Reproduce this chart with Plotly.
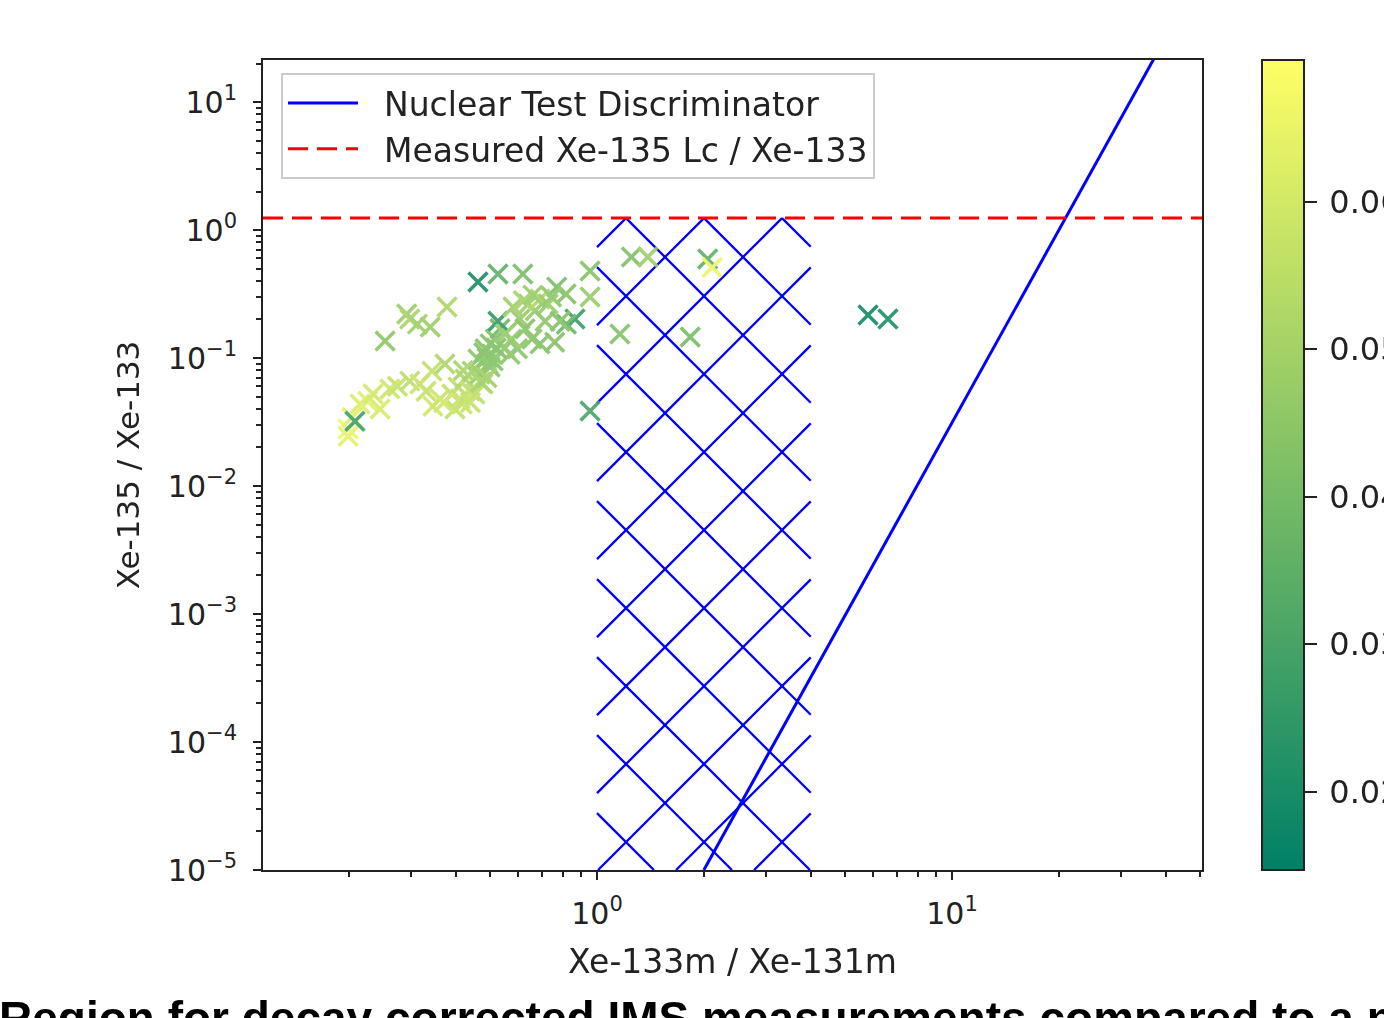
import numpy as np
import plotly.graph_objects as go

# ---------------- data ----------------
meas_x = [5.80, 6.60, 1.25, 1.39, 2.05, 2.11, 1.16, 1.83, 0.956, 0.956,
          0.956, 0.867, 0.82, 0.77, 0.76, 0.462, 0.526, 0.618, 0.253, 0.291,
          0.297, 0.312, 0.339, 0.378, 0.199, 0.199, 0.204, 0.208, 0.215, 0.226,
          0.234, 0.245, 0.261, 0.274, 0.297, 0.317, 0.343, 0.373, 0.345, 0.361,
          0.39, 0.411, 0.406, 0.425, 0.439, 0.445, 0.462, 0.468, 0.484, 0.493,
          0.500, 0.506, 0.517, 0.477, 0.453, 0.417, 0.398, 0.533, 0.526, 0.551,
          0.569, 0.597, 0.575, 0.607, 0.641, 0.669, 0.691, 0.728, 0.714, 0.627,
          0.656, 0.691, 0.787, 0.818, 0.49, 0.50, 0.48, 0.51, 0.47, 0.49,
          0.44, 0.37, 0.33, 0.55, 0.58, 0.62, 0.66, 0.745, 0.42, 0.52]
meas_y = [0.217, 0.202, 0.615, 0.615, 0.593, 0.51, 0.154, 0.146, 0.0385, 0.478,
          0.300, 0.202, 0.184, 0.358, 0.133, 0.393, 0.453, 0.453, 0.136, 0.221,
          0.202, 0.184, 0.175, 0.250, 0.0279, 0.0245, 0.0343, 0.032, 0.0437, 0.046,
          0.0523, 0.040, 0.0573, 0.0603, 0.066, 0.0626, 0.079, 0.0898, 0.042, 0.0478,
          0.0523, 0.0478, 0.0594, 0.0685, 0.0553, 0.079, 0.0982, 0.075, 0.118, 0.0898,
          0.129, 0.107, 0.141, 0.0626, 0.0523, 0.0437, 0.040, 0.169, 0.194, 0.154,
          0.107, 0.118, 0.141, 0.202, 0.264, 0.234, 0.289, 0.264, 0.194, 0.169,
          0.141, 0.129, 0.194, 0.316, 0.10, 0.085, 0.11, 0.095, 0.065, 0.07,
          0.045, 0.045, 0.055, 0.12, 0.25, 0.28, 0.31, 0.30, 0.08, 0.12]
meas_c = [0.018, 0.021, 0.042, 0.048, 0.035, 0.065, 0.043, 0.040, 0.030, 0.043,
          0.047, 0.027, 0.037, 0.040, 0.043, 0.020, 0.035, 0.041, 0.045, 0.048,
          0.051, 0.049, 0.048, 0.052, 0.066, 0.064, 0.063, 0.028, 0.062, 0.063,
          0.060, 0.061, 0.059, 0.057, 0.055, 0.058, 0.056, 0.052, 0.060, 0.058,
          0.056, 0.058, 0.055, 0.052, 0.056, 0.049, 0.045, 0.047, 0.043, 0.045,
          0.042, 0.043, 0.043, 0.052, 0.055, 0.058, 0.056, 0.039, 0.025, 0.047,
          0.045, 0.044, 0.047, 0.047, 0.049, 0.047, 0.052, 0.047, 0.045, 0.043,
          0.044, 0.043, 0.043, 0.043, 0.043, 0.044, 0.042, 0.043, 0.050, 0.049,
          0.057, 0.059, 0.057, 0.045, 0.049, 0.050, 0.047, 0.045, 0.051, 0.042]

disc_x = [2.0, 40.0]          # Nuclear test discriminator (slope 5 in log-log)
disc_y = [1e-5, 32.0]
lc_ratio = 1.24               # measured Xe-135 Lc / Xe-133
region_x = [1.0, 4.0]         # hatched region
region_y = [1e-5, 1.24]
xlim = [0.1146, 50.6]
ylim = [1e-5, 21.3]
c_lim = [0.0147, 0.0696]

x_tickvals = [1, 10]
x_ticktext = ["10<sup>0</sup>", "10<sup>1</sup>"]
y_tickvals = [1e-5, 1e-4, 1e-3, 1e-2, 1e-1, 1, 10]
y_ticktext = ["10<sup>\u22125</sup>", "10<sup>\u22124</sup>", "10<sup>\u22123</sup>",
              "10<sup>\u22122</sup>", "10<sup>\u22121</sup>", "10<sup>0</sup>", "10<sup>1</sup>"]
cbar_ticks = [0.02, 0.03, 0.04, 0.05, 0.06]
cbar_text = ["\u2009" + f"{v:.2f}" for v in cbar_ticks]

# ---------------- layout geometry ----------------
W, H = 1384, 1018
ML, MR, MT, MB = 263, 182, 60, 148
PW, PH = W - ML - MR, H - MT - MB
xr = [np.log10(xlim[0]), np.log10(xlim[1])]
yr = [np.log10(ylim[0]), np.log10(ylim[1])]
kx = PW / (xr[1] - xr[0])
ky = PH / (yr[1] - yr[0])

# hatch lines (45 deg in screen pixels) inside the region
pitch, phase = 78.0, 29.0
U0, U1 = np.log10(region_x[0]) * kx, np.log10(region_x[1]) * kx
V0, V1 = np.log10(region_y[0]) * ky, np.log10(region_y[1]) * ky
hx, hy = [], []
for k in range(-40, 40):
    up = U0 + phase + pitch * k
    for s in (1, -1):
        c = V1 - s * up
        if s == 1:
            a, b = V0 - c, V1 - c
        else:
            a, b = c - V1, c - V0
        a, b = max(a, U0), min(b, U1)
        if b - a > 0.5:
            for u in (a, b):
                hx.append(10 ** (u / kx))
                hy.append(10 ** ((c + s * u) / ky))
            hx.append(None)
            hy.append(None)

summer = [[0, "rgb(0,128,102)"], [1, "rgb(255,255,102)"]]
FONT = "DejaVu Sans, Noto Sans, sans-serif"
NB = "\u00a0\u00a0"

fig = go.Figure()
fig.add_trace(go.Scatter(x=hx, y=hy, mode="lines", line=dict(color="#0000ff", width=2.3),
                         showlegend=False, hoverinfo="skip"))
fig.add_trace(go.Scatter(
    x=meas_x, y=meas_y, mode="markers", showlegend=False, opacity=0.9,
    marker=dict(symbol="x-thin", size=19, color=meas_c, colorscale=summer,
                cmin=c_lim[0], cmax=c_lim[1], showscale=True,
                line=dict(width=3.5, color=meas_c, colorscale=summer,
                          cmin=c_lim[0], cmax=c_lim[1]),
                colorbar=dict(x=(1262 - ML) / PW, xanchor="left", xpad=0, ypad=0,
                              y=0.5, yanchor="middle", len=1, lenmode="fraction",
                              thickness=42, outlinewidth=2, outlinecolor="#222",
                              ticks="outside", ticklen=12, tickwidth=2, tickcolor="#222",
                              tickvals=cbar_ticks, ticktext=cbar_text,
                              tickfont=dict(family=FONT, size=32, color="#222")))))
fig.add_trace(go.Scatter(x=disc_x, y=disc_y, mode="lines", name=NB + "Nuclear Test Discriminator",
                         legendgroup="a", line=dict(color="#0000ff", width=3)))
fig.add_trace(go.Scatter(x=xlim, y=[lc_ratio, lc_ratio], mode="lines",
                         name=NB + "Measured Xe-135 Lc / Xe-133", legendgroup="b",
                         line=dict(color="#ff0000", width=3, dash="20px,9px")))

minor_x = [m * 10 ** d for d in range(-1, 2) for m in range(2, 10) if xlim[0] <= m * 10 ** d <= xlim[1]]
minor_y = [m * 10 ** d for d in range(-5, 2) for m in range(2, 10) if ylim[0] <= m * 10 ** d <= ylim[1]]

axis_common = dict(type="log", showgrid=False, zeroline=False, showline=True,
                   linecolor="#222", linewidth=2, mirror=True, ticks="outside",
                   ticklen=8, tickwidth=2, tickcolor="#222",
                   tickfont=dict(family=FONT, size=30, color="#222"))
fig.update_layout(
    width=W, height=H, margin=dict(l=ML, r=MR, t=MT, b=MB, autoexpand=False),
    paper_bgcolor="white", plot_bgcolor="white",
    xaxis=dict(range=xr, tickvals=x_tickvals, ticktext=x_ticktext, ticklabelstandoff=8,
               minor=dict(tickvals=minor_x, ticks="outside", ticklen=5, tickwidth=1.5, tickcolor="#222"),
               title=dict(text="Xe-133m / Xe-131m", standoff=20,
                          font=dict(family=FONT, size=33, color="#222")),
               **axis_common),
    yaxis=dict(range=yr, tickvals=y_tickvals, ticktext=y_ticktext, ticklabelstandoff=10,
               minor=dict(tickvals=minor_y, ticks="outside", ticklen=5, tickwidth=1.5, tickcolor="#222"),
               title=dict(text="Xe-135 / Xe-133", standoff=19,
                          font=dict(family=FONT, size=31, color="#222")),
               **axis_common),
    legend=dict(x=(281 - ML) / PW, y=(H - MB - 73) / PH, xanchor="left", yanchor="top",
                bgcolor="rgba(255,255,255,0.85)", bordercolor="#cccccc", borderwidth=2,
                font=dict(family=FONT, size=33, color="#222"), itemwidth=70,
                tracegroupgap=0),
    annotations=[dict(text="<b>Region for decay corrected IMS measurements compared to a nuclear test discriminator</b>",
                      xref="paper", yref="paper", x=(-3 - ML) / PW, y=(H - MB - 990) / PH,
                      xanchor="left", yanchor="top", showarrow=False,
                      font=dict(family="Liberation Sans, Arial, sans-serif", size=46, color="black"))],
)

fig.write_html("out.html")
